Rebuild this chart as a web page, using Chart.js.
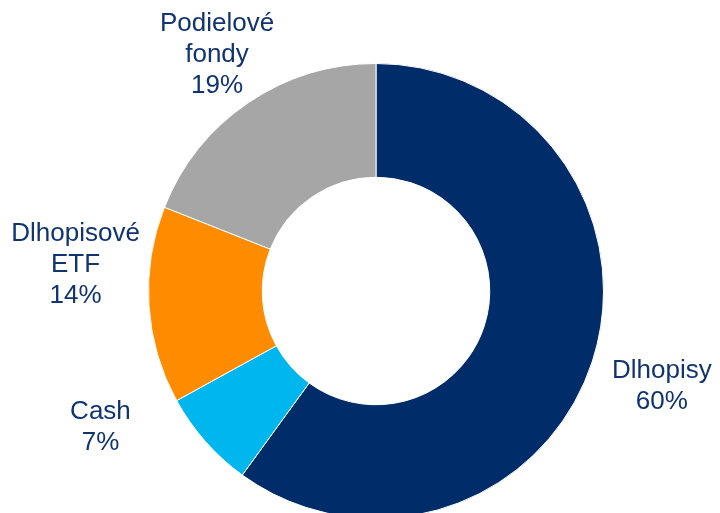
<!DOCTYPE html>
<html>
<head>
<meta charset="utf-8">
<script src="https://cdn.jsdelivr.net/npm/chart.js@4/dist/chart.umd.min.js"></script>
<style>
  html, body { margin: 0; padding: 0; background: #fff; overflow: hidden; }
  #wrap { width: 720px; height: 582px; }
</style>
</head>
<body>
<div id="wrap"><canvas id="donut"></canvas></div>
<script>
// data
const categories = [['Dlhopisy'], ['Cash'], ['Dlhopisové', 'ETF'], ['Podielové', 'fondy']];
const shares = [60, 7, 14, 19];
const sliceColors = ['#002D6A', '#00B6EF', '#FF8C00', '#A6A6A6'];

// nudges for the outside labels, Excel puts them a bit off the mid angle
const labelNudge = [[10, 6], [-58, -55], [-11, -44], [4, 4]];

const outsideLabels = {
  id: 'outsideLabels',
  afterDraw(chart) {
    const ctx = chart.ctx;
    const meta = chart.getDatasetMeta(0);
    ctx.save();
    ctx.font = '26px "Liberation Sans", Arial, sans-serif';
    ctx.fillStyle = '#103372';
    ctx.textAlign = 'center';
    ctx.textBaseline = 'middle';
    meta.data.forEach((arc, i) => {
      const mid = (arc.startAngle + arc.endAngle) / 2;
      const dist = 290;
      const x = arc.x + Math.cos(mid) * dist + labelNudge[i][0];
      const y = arc.y + Math.sin(mid) * dist + labelNudge[i][1];
      const lines = categories[i].concat([shares[i] + '%']);
      const lh = 31;
      const top = y - (lines.length - 1) * lh / 2;
      lines.forEach((t, k) => ctx.fillText(t, x, top + k * lh));
    });
    ctx.restore();
  }
};

new Chart(document.getElementById('donut'), {
  type: 'doughnut',
  data: {
    labels: categories,
    datasets: [{
      data: shares,
      backgroundColor: sliceColors,
      borderColor: '#ffffff',
      borderWidth: 1
    }]
  },
  options: {
    responsive: true,
    maintainAspectRatio: false,
    animation: false,
    cutout: '50%',
    layout: { padding: { left: 79, right: 47, top: 63, bottom: 63 } },
    plugins: {
      legend: { display: false },
      tooltip: { enabled: false }
    }
  },
  plugins: [outsideLabels]
});
</script>
</body>
</html>
